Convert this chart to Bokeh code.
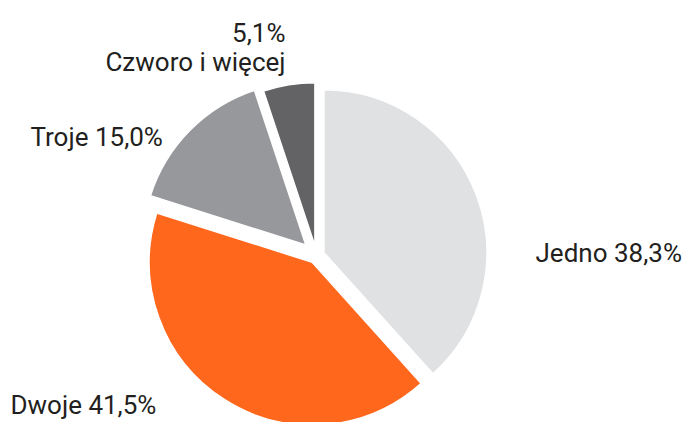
import numpy as np
from bokeh.plotting import figure
from bokeh.models import Range1d, ColumnDataSource
from bokeh.core.properties import value
from bokeh.embed import file_html
from bokeh.resources import INLINE

# Data
categories = ["Jedno", "Dwoje", "Troje", "Czworo i więcej"]
shares = [38.3, 41.5, 15.0, 5.1]
share_labels = ["38,3%", "41,5%", "15,0%", "5,1%"]
colors = ["#e0e1e3", "#ff671d", "#97989c", "#636366"]

W, H = 683, 422
cx, cy = 316.0, H - 255.0
radius = 163
explode = np.array([8, 8, 15, 10], dtype=float)

vals = np.array(shares, dtype=float)
frac = vals / vals.sum()
cum = np.concatenate([[0.0], np.cumsum(frac)])
a_cw = cum[:-1] * 2 * np.pi          # clockwise from top
b_cw = cum[1:] * 2 * np.pi
mid_cw = (a_cw + b_cw) / 2
start = np.pi / 2 - b_cw
end = np.pi / 2 - a_cw
xs = cx + explode * np.sin(mid_cw)
ys = cy + explode * np.cos(mid_cw)

src = ColumnDataSource(dict(x=xs, y=ys, start=start, end=end, color=colors))

p = figure(width=W, height=H, output_backend="svg", toolbar_location=None,
           x_range=Range1d(0, W), y_range=Range1d(0, H), min_border=0,
           x_axis_location=None, y_axis_location=None)
p.grid.visible = False
p.outline_line_color = None
p.background_fill_color = "white"

p.wedge(x="x", y="y", radius=radius, start_angle="start", end_angle="end",
        fill_color="color", line_color="white", line_width=1.5, source=src)

# Labels (layout positions)
font = value("Roboto")
txt_color = "#231f20"
left_labels = dict(
    x=[535, 10, 30],
    y=[H - 252, H - 404, H - 136],
    text=[f"{categories[0]} {share_labels[0]}",
          f"{categories[1]} {share_labels[1]}",
          f"{categories[2]} {share_labels[2]}"],
)
p.text(x="x", y="y", text="text", source=ColumnDataSource(left_labels),
       text_font=font, text_font_size="26px", text_color=txt_color,
       text_align="left", text_baseline="alphabetic")

right_labels = dict(
    x=[285, 285],
    y=[H - 32, H - 61],
    text=[share_labels[3], categories[3]],
)
p.text(x="x", y="y", text="text", source=ColumnDataSource(right_labels),
       text_font=font, text_font_size="26px", text_color=txt_color,
       text_align="right", text_baseline="alphabetic")

open("out.html", "w").write(file_html(p, INLINE))
